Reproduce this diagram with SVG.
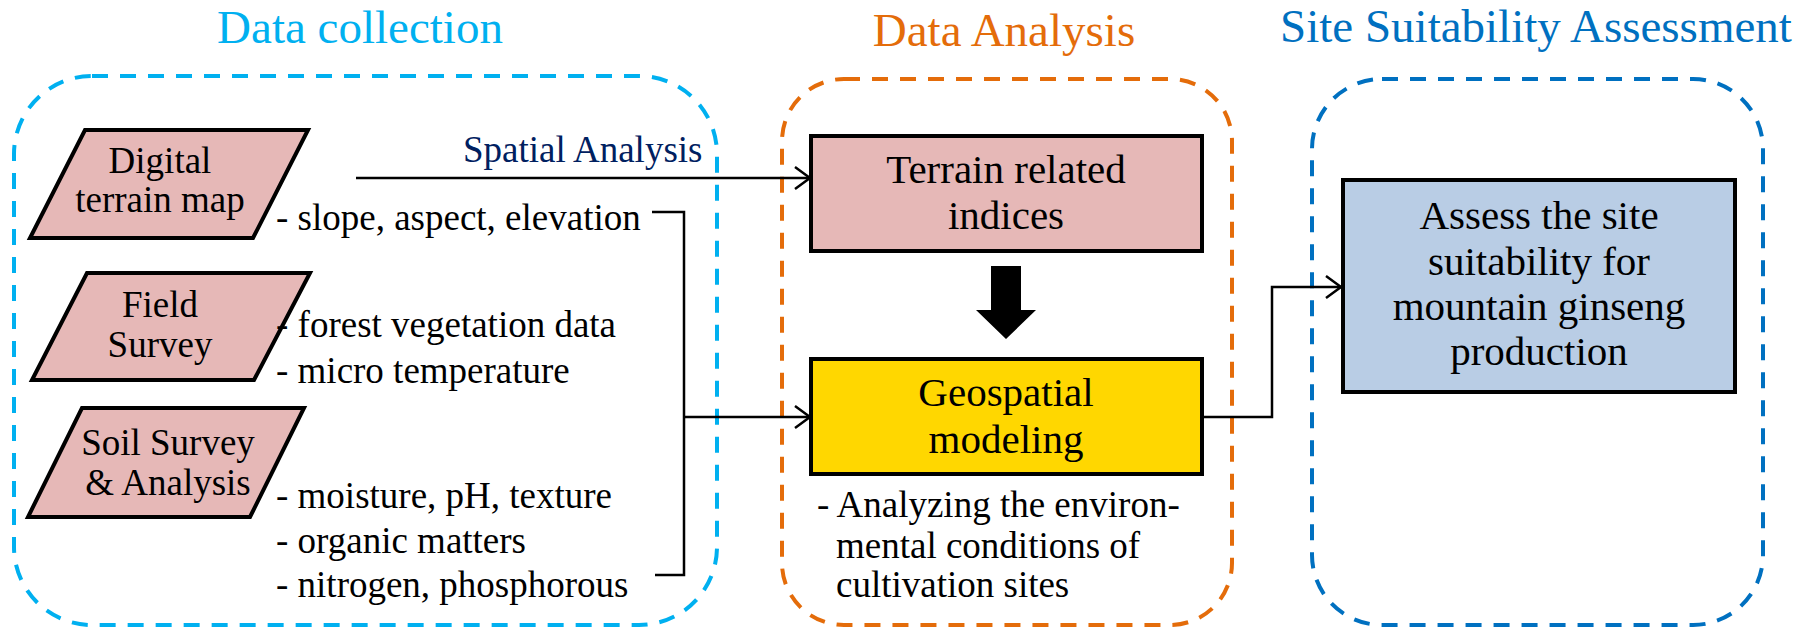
<svg xmlns="http://www.w3.org/2000/svg" width="1812" height="629" viewBox="0 0 1812 629">
<style>
text { font-family: "Liberation Serif", "Times New Roman", serif; }
.title { font-size: 47px; text-anchor: middle; }
.body { font-size: 37px; fill: #000; }
.nodetxt { font-size: 37px; fill: #000; text-anchor: middle; }
.boxtxt { font-size: 41px; fill: #000; text-anchor: middle; }
.group { fill: none; stroke-width: 4; stroke-dasharray: 16 12; }
.para { fill: #E6B8B7; stroke: #000; stroke-width: 4; stroke-linejoin: miter; }
.box { stroke: #000; stroke-width: 4; }
.conn { fill: none; stroke: #000; stroke-width: 2.5; }
</style>
<defs>
<marker id="chev" markerUnits="userSpaceOnUse" markerWidth="20" markerHeight="26" refX="16" refY="12" orient="auto" overflow="visible">
<path d="M1,1 L16,12 L1,23" fill="none" stroke="#000" stroke-width="2.5"/>
</marker>
</defs>

<g id="group-data-collection">
<rect x="14" y="76" width="703" height="549" rx="78" ry="78" class="group" stroke="#00B0F0"/>
<text class="title" x="360" y="43" fill="#00B0F0">Data collection</text>
</g>
<g id="group-data-analysis">
<rect x="782" y="79" width="450" height="546" rx="62" ry="62" class="group" stroke="#E46C0A"/>
<text class="title" x="1004" y="46" fill="#E46C0A">Data Analysis</text>
</g>
<g id="group-site-suitability">
<rect x="1312" y="79" width="451" height="546" rx="70" ry="70" class="group" stroke="#0070C0"/>
<text class="title" x="1536" y="42" fill="#0070C0">Site Suitability Assessment</text>
</g>

<g id="connectors">
<path class="conn" d="M356,178 H810" marker-end="url(#chev)"/>
<text x="463" y="162" style="font-size:37px" fill="#002060">Spatial Analysis</text>
<path class="conn" d="M652,212 H684 V575 H655"/>
<path class="conn" d="M684,417 H810" marker-end="url(#chev)"/>
<path class="conn" d="M1202,417 H1272 V287 H1341" marker-end="url(#chev)"/>
<polygon points="991,266 1021,266 1021,310 1036,310 1006,339 976,310 991,310" fill="#000"/>
</g>

<g id="node-digital-terrain">
<polygon class="para" points="85,130 308,130 253,238 30,238"/>
<text class="nodetxt" x="160" y="173">Digital</text>
<text class="nodetxt" x="160" y="212">terrain map</text>
<text class="body" x="276" y="230">- slope, aspect, elevation</text>
</g>

<g id="node-field-survey">
<polygon class="para" points="87,273 310,273 254,380 32,380"/>
<text class="nodetxt" x="160" y="317">Field</text>
<text class="nodetxt" x="160" y="357">Survey</text>
<text class="body" x="276" y="337">- forest vegetation data</text>
<text class="body" x="276" y="383">- micro temperature</text>
</g>

<g id="node-soil-survey">
<polygon class="para" points="82,408 304,408 250,517 28,517"/>
<text class="nodetxt" x="168" y="455">Soil Survey</text>
<text class="nodetxt" x="168" y="495">&amp; Analysis</text>
<text class="body" x="276" y="508">- moisture, pH, texture</text>
<text class="body" x="276" y="553">- organic matters</text>
<text class="body" x="276" y="597">- nitrogen, phosphorous</text>
</g>

<g id="node-terrain-indices">
<rect class="box" x="811" y="136" width="391" height="115" fill="#E6B8B7"/>
<text class="boxtxt" x="1006" y="183">Terrain related</text>
<text class="boxtxt" x="1006" y="229">indices</text>
</g>

<g id="node-geospatial">
<rect class="box" x="811" y="359" width="391" height="115" fill="#FFD700"/>
<text class="boxtxt" x="1006" y="406">Geospatial</text>
<text class="boxtxt" x="1006" y="453">modeling</text>
<text class="body" x="817" y="517">- Analyzing the environ-</text>
<text class="body" x="836" y="558">mental conditions of</text>
<text class="body" x="836" y="597">cultivation sites</text>
</g>

<g id="node-assess">
<rect class="box" x="1343" y="180" width="392" height="212" fill="#B9CDE5"/>
<text class="boxtxt" x="1539" y="229">Assess the site</text>
<text class="boxtxt" x="1539" y="275">suitability for</text>
<text class="boxtxt" x="1539" y="320">mountain ginseng</text>
<text class="boxtxt" x="1539" y="365">production</text>
</g>
</svg>
